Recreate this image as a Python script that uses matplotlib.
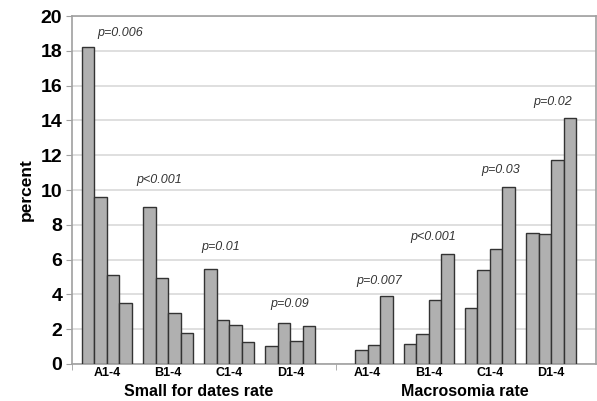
import matplotlib.pyplot as plt
import numpy as np

# bar heights (percent), four bars per group
sfd_groups = ["A1-4", "B1-4", "C1-4", "D1-4"]
sfd_values = [[18.2, 9.6, 5.1, 3.5],
              [9.0, 4.95, 2.95, 1.8],
              [5.45, 2.55, 2.25, 1.25],
              [1.05, 2.35, 1.35, 2.2]]
macro_groups = ["A1-4", "B1-4", "C1-4", "D1-4"]
macro_values = [[0.0, 0.8, 1.1, 3.9],
                [1.15, 1.7, 3.65, 6.35],
                [3.2, 5.4, 6.6, 10.2],
                [7.55, 7.45, 11.7, 14.15]]

# p-value annotations (text, x in group units, y in percent)
sfd_p = ["p=0.006", "p<0.001", "p=0.01", "p=0.09"]
sfd_p_x = [0.21, 0.86, 1.86, 2.98]
sfd_p_y = [19.0, 10.6, 6.74, 3.45]
macro_p = ["p=0.007", "p<0.001", "p=0.03", "p=0.02"]
macro_p_x = [4.45, 5.33, 6.44, 7.29]
macro_p_y = [4.77, 7.3, 11.15, 15.07]

plt.rcParams['font.family'] = ['Liberation Sans', 'DejaVu Sans']

gap = 4.26
left_pos = np.arange(4)
right_pos = np.arange(4) + gap
w = 0.204

fig = plt.figure(figsize=(5.97, 4.01), dpi=100)
ax = fig.add_axes([0.1206, 0.0923, 0.8774, 0.8677])

for pos, vals in [(left_pos, sfd_values), (right_pos, macro_values)]:
    vals = np.array(vals)
    for k in range(4):
        h = vals[:, k]
        ax.bar(pos + (k - 1.5) * w, h, width=w, color='#b0b0b0',
               edgecolor=np.where(h > 0, '#333333', 'none').tolist(),
               linewidth=1.0, zorder=3)

for txt, x, y in zip(sfd_p + macro_p, sfd_p_x + macro_p_x, sfd_p_y + macro_p_y):
    ax.text(x, y, txt, ha='center', va='center', style='italic',
            fontsize=9, color='#333333')

ax.set_ylim(0, 20)
ax.set_yticks(np.arange(0, 21, 2))
ax.set_xlim(-0.57, 7.99)
ax.grid(axis='y', color='#d9d9d9', lw=1.2, zorder=0)
ax.set_axisbelow(True)

ax.set_xticks(np.concatenate([left_pos, right_pos]))
ax.set_xticklabels(sfd_groups + macro_groups, fontsize=9, fontweight='bold')
ax.tick_params(axis='x', length=0, pad=2)
ax.set_xticks([-0.57, 3.74], minor=True)
ax.tick_params(axis='x', which='minor', length=4, color='#a0a0a0')
ax.tick_params(axis='y', length=4, color='#a0a0a0', labelsize=14, pad=3)
for lab in ax.get_yticklabels():
    lab.set_fontweight('bold')

for s in ax.spines.values():
    s.set_color('#a0a0a0')
    s.set_linewidth(1.2)

ax.set_ylabel('percent', fontsize=12.5, fontweight='bold', labelpad=5)

ax.text(1.5, -0.08, 'Small for dates rate', transform=ax.get_xaxis_transform(),
        ha='center', va='center', fontsize=11.5, fontweight='bold')
ax.text(5.85, -0.08, 'Macrosomia rate', transform=ax.get_xaxis_transform(),
        ha='center', va='center', fontsize=11.5, fontweight='bold')

fig.savefig('out.png', dpi=100)
